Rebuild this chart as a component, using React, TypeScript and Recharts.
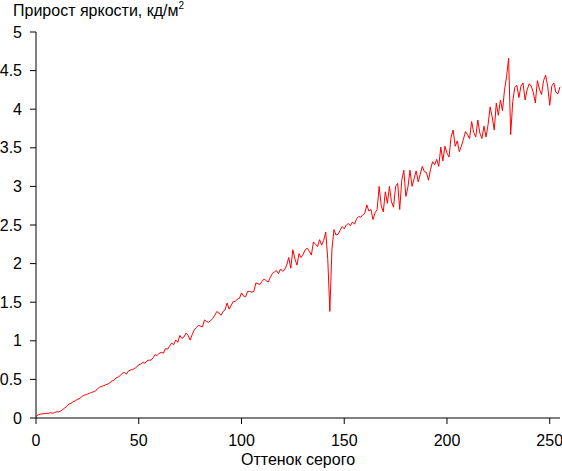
import { LineChart, Line, XAxis, YAxis } from 'recharts';

// Прирост яркости по оттенкам серого 0..255
const brightnessGain = [
  0.02, 0.04, 0.05, 0.055, 0.055, 0.06, 0.06, 0.07, 0.06, 0.07,
  0.08, 0.08, 0.09, 0.11, 0.13, 0.15, 0.18, 0.19, 0.21, 0.22,
  0.24, 0.25, 0.27, 0.29, 0.30, 0.31, 0.32, 0.33, 0.34, 0.35,
  0.38, 0.40, 0.41, 0.42, 0.43, 0.44, 0.46, 0.48, 0.49, 0.52,
  0.53, 0.55, 0.58, 0.59, 0.57, 0.61, 0.62, 0.63, 0.64, 0.66,
  0.69, 0.70, 0.72, 0.71, 0.74, 0.75, 0.75, 0.78, 0.82, 0.81,
  0.84, 0.85, 0.84, 0.90, 0.89, 0.93, 0.97, 0.95, 1.01, 0.98,
  1.07, 1.03, 1.05, 1.10, 1.07, 1.01, 1.08, 1.14, 1.17, 1.20,
  1.19, 1.18, 1.27, 1.25, 1.24, 1.26, 1.29, 1.33, 1.38, 1.36,
  1.33, 1.38, 1.40, 1.49, 1.41, 1.46, 1.51, 1.51, 1.54, 1.55,
  1.62, 1.58, 1.57, 1.64, 1.64, 1.63, 1.64, 1.75, 1.74, 1.73,
  1.77, 1.80, 1.78, 1.76, 1.82, 1.87, 1.89, 1.91, 1.87, 1.93,
  1.90, 1.92, 1.98, 2.08, 1.94, 2.18, 2.06, 1.98, 2.13, 2.08,
  2.12, 2.18, 2.20, 2.16, 2.11, 2.28, 2.25, 2.22, 2.31, 2.24,
  2.30, 2.41, 2.05, 1.38, 2.18, 2.44, 2.37, 2.38, 2.43, 2.48,
  2.45, 2.50, 2.52, 2.49, 2.54, 2.51, 2.58, 2.61, 2.60, 2.63,
  2.65, 2.76, 2.68, 2.70, 2.57, 2.66, 2.70, 3.00, 2.75, 2.67,
  2.93, 2.78, 3.00, 2.80, 2.73, 3.00, 3.04, 2.70, 3.08, 3.21,
  2.87, 2.99, 3.21, 3.00, 3.10, 3.20, 3.06, 3.16, 3.26, 3.19,
  3.18, 3.08, 3.22, 3.32, 3.28, 3.35, 3.26, 3.51, 3.33, 3.52,
  3.43, 3.38, 3.64, 3.73, 3.52, 3.59, 3.45, 3.52, 3.61, 3.71,
  3.67, 3.62, 3.84, 3.70, 3.64, 3.86, 3.69, 3.62, 3.78, 3.64,
  3.80, 4.03, 3.90, 3.73, 4.08, 3.92, 4.12, 3.98, 4.25, 4.42,
  4.66, 3.67, 4.10, 4.28, 4.31, 4.15, 4.30, 4.34, 4.12, 4.25,
  4.33, 4.30, 4.22, 4.08, 4.37, 4.26, 4.19, 4.37, 4.44, 4.30,
  4.05, 4.30, 4.34, 4.22, 4.20, 4.29,
];

const xTicks = [0, 50, 100, 150, 200, 250];
const yTicks = [0, 0.5, 1, 1.5, 2, 2.5, 3, 3.5, 4, 4.5, 5];

const data = brightnessGain.map((v, i) => ({ shade: i, gain: v }));

const font = '"Liberation Sans", Arial, sans-serif';
const tickStyle = { fill: '#000', fontSize: 16, fontFamily: font };

export default function App() {
  return (
    <div style={{ position: 'absolute', left: 0, top: 0, width: 562, height: 471, background: '#fff' }}>
      <LineChart width={562} height={471} data={data} margin={{ top: 32, right: 2, bottom: 0, left: 0 }}>
        <XAxis
          dataKey="shade"
          type="number"
          domain={[0, 255]}
          ticks={xTicks}
          stroke="#000"
          tickSize={6}
          tickMargin={11}
          tick={tickStyle}
          height={53}
          label={{ value: 'Оттенок серого', position: 'insideBottom', offset: 6, fill: '#000', fontSize: 16, fontFamily: font }}
        />
        <YAxis
          type="number"
          domain={[0, 5]}
          ticks={yTicks}
          stroke="#000"
          width={36}
          tickSize={6}
          tickMargin={8}
          tick={tickStyle}
        />
        <Line type="linear" dataKey="gain" stroke="#ff0000" strokeWidth={1} dot={false} isAnimationActive={false} />
      </LineChart>
      <div style={{ position: 'absolute', left: 13, top: 2, fontFamily: font, fontSize: 16, color: '#000', whiteSpace: 'nowrap' }}>
        Прирост яркости, кд/м
        <span style={{ fontSize: 10, position: 'relative', top: -7 }}>2</span>
      </div>
    </div>
  );
}
